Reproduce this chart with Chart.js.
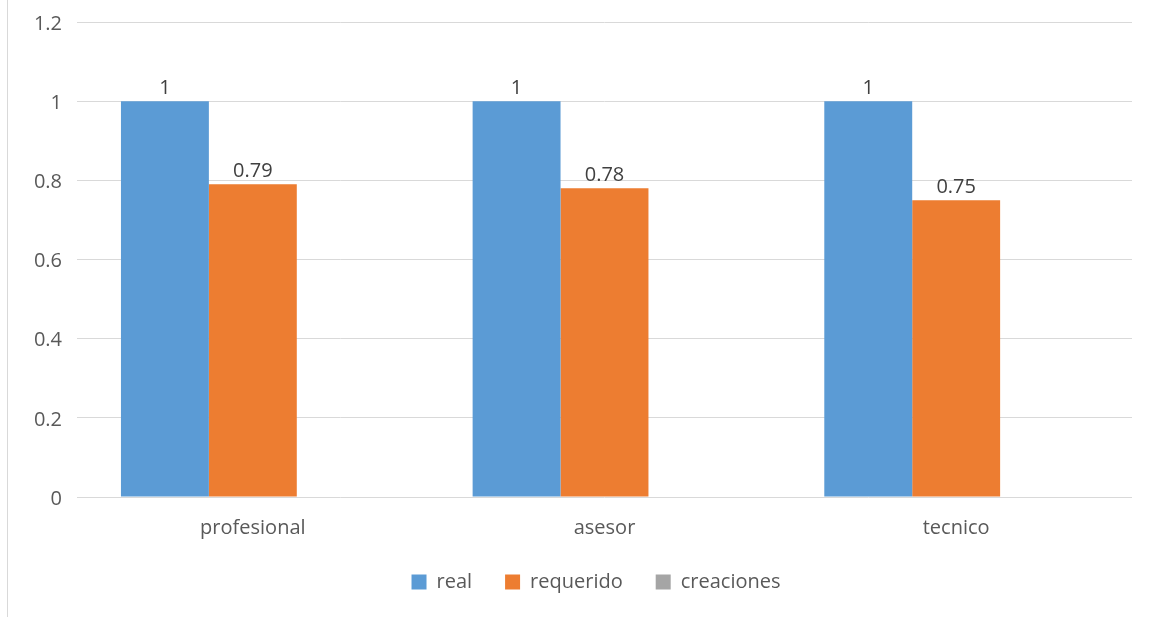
<!DOCTYPE html>
<html lang="es">
<head>
  <meta charset="UTF-8" />
  <title>real vs requerido</title>
  <script src="https://cdn.jsdelivr.net/npm/chart.js"></script>
  <style>
    html, body {
      margin: 0;
      padding: 0;
      background: #ffffff;
    }
    .frame {
      position: absolute;
      left: 7px;
      top: 0;
      width: 1142px;
      height: 617px;
      border-left: 1px solid #d9d9d9;
    }
    canvas {
      display: block;
    }
  </style>
</head>
<body>
  <div class="frame">
    <canvas id="chart" width="1141" height="617"></canvas>
  </div>

  <script>
    const categories = ['profesional', 'asesor', 'tecnico'];
    const realValues = [1, 1, 1];
    const requeridoValues = [0.79, 0.78, 0.75];
    const creacionesValues = [null, null, null];
    const yTicks = [0, 0.2, 0.4, 0.6, 0.8, 1, 1.2];

    const textColor = '#595959';
    const fontFamily = '"Open Sans", "Noto Sans", sans-serif';
    const fontSize = 20;

    // draws the value above each bar
    const valueLabels = {
      id: 'valueLabels',
      afterDatasetsDraw(chart) {
        const ctx = chart.ctx;
        ctx.save();
        ctx.font = fontSize + 'px ' + fontFamily;
        ctx.fillStyle = '#404040';
        ctx.textAlign = 'center';
        ctx.textBaseline = 'alphabetic';
        chart.data.datasets.forEach((ds, i) => {
          chart.getDatasetMeta(i).data.forEach((bar, j) => {
            const v = ds.data[j];
            if (v === null || v === undefined) return;
            ctx.fillText(String(v), bar.x, bar.y - 7);
          });
        });
        ctx.restore();
      }
    };

    // the legend sits a bit right of the canvas centre, under the plot area
    const legendShift = {
      id: 'legendShift',
      afterLayout(chart) {
        if (chart.legend) chart.legend.left += 52;
      }
    };

    new Chart(document.getElementById('chart'), {
      type: 'bar',
      data: {
        labels: categories,
        datasets: [
          { label: 'real', data: realValues, backgroundColor: '#5b9bd5' },
          { label: 'requerido', data: requeridoValues, backgroundColor: '#ed7d31' },
          { label: 'creaciones', data: creacionesValues, backgroundColor: '#a5a5a5' }
        ]
      },
      options: {
        responsive: false,
        animation: false,
        categoryPercentage: 0.75,
        barPercentage: 1,
        layout: {
          padding: { top: 22, right: 17, bottom: 15, left: 0 }
        },
        plugins: {
          tooltip: { enabled: false },
          legend: {
            position: 'bottom',
            labels: {
              color: textColor,
              font: { family: fontFamily, size: fontSize },
              boxWidth: 15,
              boxHeight: 15,
              padding: 33
            }
          }
        },
        scales: {
          x: {
            grid: { display: false, drawTicks: false },
            border: { display: false },
            ticks: {
              color: textColor,
              font: { family: fontFamily, size: fontSize },
              padding: 19
            },
            afterFit(scale) { scale.height = 42; }
          },
          y: {
            min: 0,
            max: 1.2,
            afterBuildTicks(scale) {
              scale.ticks = yTicks.map(v => ({ value: v }));
            },
            grid: { color: '#d9d9d9', lineWidth: 1, drawTicks: false },
            border: { display: false },
            ticks: {
              color: textColor,
              font: { family: fontFamily, size: fontSize },
              padding: 15,
              labelOffset: 2,
              callback: v => String(+Number(v).toFixed(1))
            },
            afterFit(scale) {
              scale.width = 69;
              scale.paddingTop = 0;
              scale.paddingBottom = 0;
            }
          }
        }
      },
      plugins: [valueLabels, legendShift]
    });
  </script>
</body>
</html>
